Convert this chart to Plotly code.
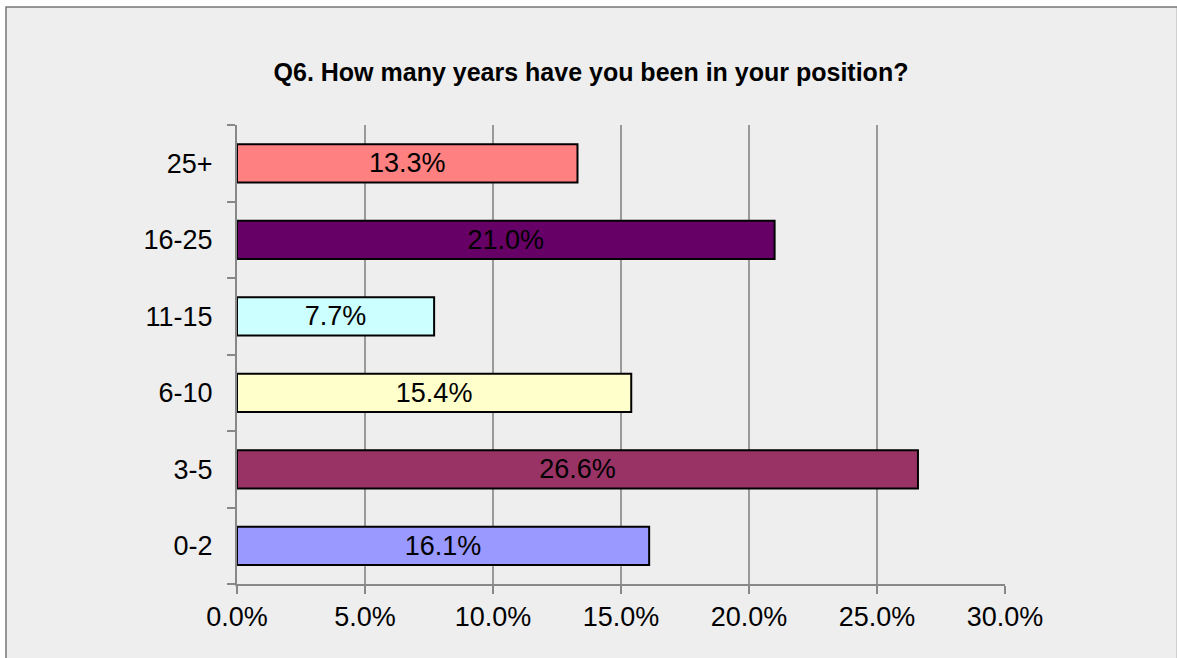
import plotly.graph_objects as go

# Survey answers: years in current position
categories = ["0-2", "3-5", "6-10", "11-15", "16-25", "25+"]
shares = [0.161, 0.266, 0.154, 0.077, 0.210, 0.133]
bar_colors = ["#9999FF", "#993366", "#FFFFCC", "#CCFFFF", "#660066", "#FF8080"]
title_text = "Q6. How many years have you been in your position?"

W, H = 1177, 658
L, R, T, B = 237, 172, 125, 74
pw, ph = W - L - R, H - T - B
FONT = "Liberation Sans, Arial, sans-serif"

fig = go.Figure(
    go.Bar(
        x=shares,
        y=categories,
        orientation="h",
        marker=dict(color=bar_colors, line=dict(color="#000000", width=2)),
        text=[f"{v:.1%}" for v in shares],
        textposition="inside",
        insidetextanchor="middle",
        textfont=dict(family=FONT, size=27, color="#000000"),
        cliponaxis=False,
        hoverinfo="skip",
    )
)

fig.update_layout(
    width=W,
    height=H,
    margin=dict(l=L, r=R, t=T, b=B, pad=0),
    paper_bgcolor="#FFFFFF",
    plot_bgcolor="rgba(0,0,0,0)",
    bargap=0.5,
    showlegend=False,
    font=dict(family=FONT, size=27, color="#000000"),
    title=dict(
        text="<b>" + title_text + "</b>",
        x=591 / W,
        xref="container",
        xanchor="center",
        y=1 - 72 / H,
        yanchor="middle",
        font=dict(size=25, color="#000000"),
    ),
    uniformtext=dict(minsize=10, mode="show"),
)

fig.update_xaxes(
    range=[0, 0.30],
    dtick=0.05,
    tick0=0,
    tickformat=".1%",
    showgrid=True,
    gridcolor="#999999",
    gridwidth=1.5,
    zeroline=False,
    showline=True,
    linecolor="#888888",
    linewidth=2,
    ticks="outside",
    ticklen=8,
    tickwidth=1.5,
    tickcolor="#888888",
    tickfont=dict(size=27),
    fixedrange=True,
)

fig.update_yaxes(
    categoryorder="array",
    categoryarray=categories,
    showgrid=False,
    zeroline=False,
    showline=True,
    linecolor="#888888",
    linewidth=2,
    ticks="outside",
    tickson="boundaries",
    ticklen=8,
    tickwidth=1.5,
    tickcolor="#888888",
    ticklabelstandoff=17,
    tickfont=dict(size=27),
    fixedrange=True,
)

# Outer frame of the chart area
fig.add_shape(
    type="rect",
    xref="paper",
    yref="paper",
    x0=(6 - L) / pw,
    x1=(W + 0.5 - L) / pw,
    y0=-(H + 20 - T - ph) / ph,
    y1=(H - 7 - B) / ph,
    line=dict(color="#777777", width=1.5),
    fillcolor="#EEEEEE",
    layer="below",
)

fig.write_html("out.html")
